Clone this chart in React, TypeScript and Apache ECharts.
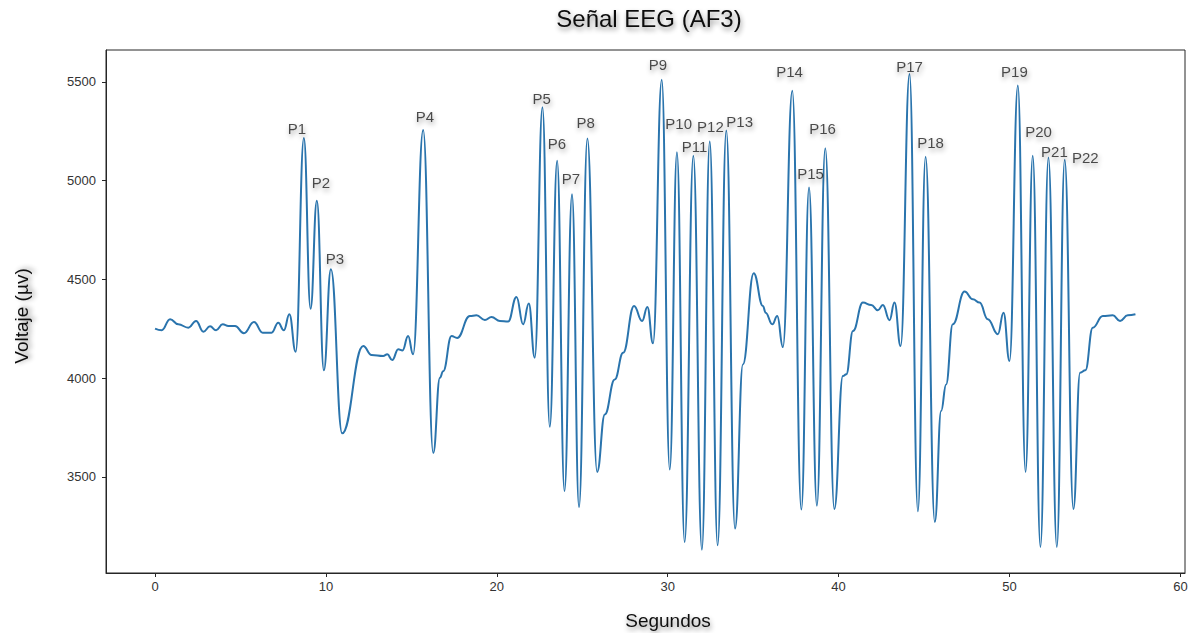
import React, { useEffect, useRef } from "react";
import * as echarts from "echarts";

const times = [
  0.0, 0.39, 0.88, 1.36, 1.95, 2.4, 2.83, 3.22, 3.57, 3.96, 4.29, 4.68, 5.2, 5.79, 6.3, 6.82, 7.21, 7.54, 7.86, 8.23,
  8.71, 9.1, 9.47, 9.88, 10.29, 10.95, 12.18, 12.67, 13.35, 13.59, 13.88, 14.23, 14.48, 14.81, 15.1, 15.69, 16.28,
  16.67, 16.86, 17.35, 17.68, 18.42, 18.81, 19.3, 19.69, 20.18, 20.66, 21.15, 21.54, 21.87, 22.22, 22.67, 23.1,
  23.53, 23.96, 24.4, 24.81, 25.3, 25.87, 26.32, 26.9, 27.39, 28.03, 28.5, 28.81, 29.14, 29.65, 30.12, 30.54, 30.99,
  31.5, 32.0, 32.46, 32.92, 33.43, 33.94, 34.4, 35.03, 35.57, 35.73, 36.12, 36.41, 36.74, 37.29, 37.82, 38.27, 38.73,
  39.22, 39.75, 40.25, 40.45, 40.84, 41.42, 41.91, 42.3, 42.59, 42.98, 43.27, 43.63, 44.15, 44.64, 45.09, 45.63,
  46.0, 46.29, 46.68, 47.37, 47.86, 48.25, 48.73, 49.32, 49.65, 50.0, 50.49, 50.94, 51.36, 51.81, 52.28, 52.77,
  53.23, 53.74, 54.13, 54.44, 54.87, 55.46, 56.04, 56.47, 56.92, 57.37,
];

const voltage = [
  4250, 4242, 4298, 4272, 4255, 4289, 4235, 4262, 4242, 4272, 4264, 4264, 4227, 4284, 4230, 4230, 4280, 4242, 4323, 4133,
  5215, 4351, 4898, 4039, 4551, 3720, 4162, 4117, 4112, 4120, 4091, 4146, 4140, 4213, 4120, 5256, 3621,
  4002, 4035, 4213, 4203, 4314, 4318, 4294, 4309, 4289, 4286, 4411, 4272, 4377, 4103, 5371, 3753,
  5100, 3427, 4931, 3346, 5213, 3525, 3816, 3993, 4128, 4365, 4289, 4360, 4176, 5510, 3537, 5143, 3170,
  5126, 3131, 5198, 3153, 5253, 3238, 4069, 4531, 4365, 4331, 4272, 4314, 4157, 5455, 3334, 4965, 3354,
  5163, 3337, 4010, 4019, 4238, 4382, 4370, 4343, 4370, 4293, 4382, 4162, 5540, 3326, 5121, 3271,
  3833, 3968, 4272, 4438, 4399, 4382, 4298, 4222, 4331, 4086, 5481, 3525, 5126, 3145, 5117, 3145,
  5105, 3337, 4027, 4039, 4255, 4314, 4318, 4289, 4318, 4323,
];

const peakNames = [
  "P1", "P2", "P3", "P4", "P5", "P6", "P7", "P8", "P9", "P10", "P11",
  "P12", "P13", "P14", "P15", "P16", "P17", "P18", "P19", "P20", "P21", "P22",
];
const peakLabelTimes = [
  8.3, 9.71, 10.53, 15.79, 22.63, 23.51, 24.33, 25.2, 29.42, 30.64, 31.57,
  32.5, 34.21, 37.13, 38.36, 39.06, 44.15, 45.38, 50.29, 51.7, 52.63, 54.44,
];
const peakLabelValues = [
  5263, 4989, 4603, 5324, 5415, 5187, 5009, 5293, 5590, 5288, 5171,
  5273, 5298, 5552, 5034, 5263, 5577, 5192, 5552, 5248, 5146, 5116,
];

const xTicks = [0, 10, 20, 30, 40, 50, 60];
const yTicks = [3500, 4000, 4500, 5000, 5500];

const FONT = '"Liberation Sans", Arial, sans-serif';
const shadow = {
  textShadowColor: "rgba(0,0,0,0.45)",
  textShadowBlur: 5,
  textShadowOffsetX: 1,
  textShadowOffsetY: 3,
};

export default function App() {
  const ref = useRef<HTMLDivElement>(null);
  useEffect(() => {
    if (!ref.current) return;
    const chart = echarts.init(ref.current, undefined, { renderer: "svg" });
    const lineData = times.map((t, i) => [t, voltage[i]]);
    const labelData = peakNames.map((n, i) => [peakLabelTimes[i], peakLabelValues[i], n]);
    chart.setOption({
      animation: false,
      backgroundColor: "#ffffff",
      grid: {
        left: 106,
        right: 9,
        top: 50,
        bottom: 60,
        show: true,
        borderColor: "#262626",
        borderWidth: 1,
        containLabel: false,
        outerBoundsMode: "none",
      },
      xAxis: {
        type: "value",
        min: -2.87,
        max: 60.27,
        splitLine: { show: false },
        axisLine: { show: true, onZero: false, lineStyle: { color: "#262626", width: 1 } },
        axisTick: { show: true, customValues: xTicks, length: 4, lineStyle: { color: "#262626" } },
        axisLabel: {
          customValues: xTicks,
          formatter: (v: number) => String(v),
          fontFamily: FONT,
          fontSize: 13,
          color: "#333",
          margin: 7,
        },
      },
      yAxis: {
        type: "value",
        min: 3013,
        max: 5661,
        splitLine: { show: false },
        axisLine: { show: true, onZero: false, lineStyle: { color: "#262626", width: 1 } },
        axisTick: { show: true, customValues: yTicks, length: 4, lineStyle: { color: "#262626" } },
        axisLabel: {
          customValues: yTicks,
          formatter: (v: number) => String(v),
          fontFamily: FONT,
          fontSize: 13,
          color: "#333",
          margin: 10,
        },
      },
      series: [
        {
          type: "line",
          data: lineData,
          showSymbol: false,
          symbol: "none",
          smooth: 0.45,
          smoothMonotone: "x",
          lineStyle: { color: "#2a74ad", width: 2 },
          z: 2,
        },
        {
          type: "scatter",
          data: labelData,
          symbolSize: 0,
          silent: true,
          z: 3,
          label: {
            show: true,
            position: "inside",
            formatter: (p: any) => p.value[2],
            fontFamily: FONT,
            fontSize: 15,
            color: "#1e1e1e",
            ...shadow,
          },
        },
      ],
      graphic: [
        {
          type: "text",
          x: 649,
          y: 18,
          style: {
            text: "Señal EEG (AF3)",
            font: `24px ${FONT}`,
            fill: "#111",
            textAlign: "center",
            textVerticalAlign: "middle",
            ...shadow,
          },
        },
        {
          type: "text",
          x: 668,
          y: 620,
          style: {
            text: "Segundos",
            font: `19px ${FONT}`,
            fill: "#111",
            textAlign: "center",
            textVerticalAlign: "middle",
            ...shadow,
          },
        },
        {
          type: "text",
          x: 21,
          y: 316,
          rotation: Math.PI / 2,
          style: {
            text: "Voltaje (µv)",
            font: `19px ${FONT}`,
            fill: "#111",
            textAlign: "center",
            textVerticalAlign: "middle",
            ...shadow,
          },
        },
      ],
    });
    return () => chart.dispose();
  }, []);
  return (
    <div
      ref={ref}
      style={{ position: "fixed", left: 0, top: 0, width: 1194, height: 633, background: "#fff" }}
    />
  );
}
